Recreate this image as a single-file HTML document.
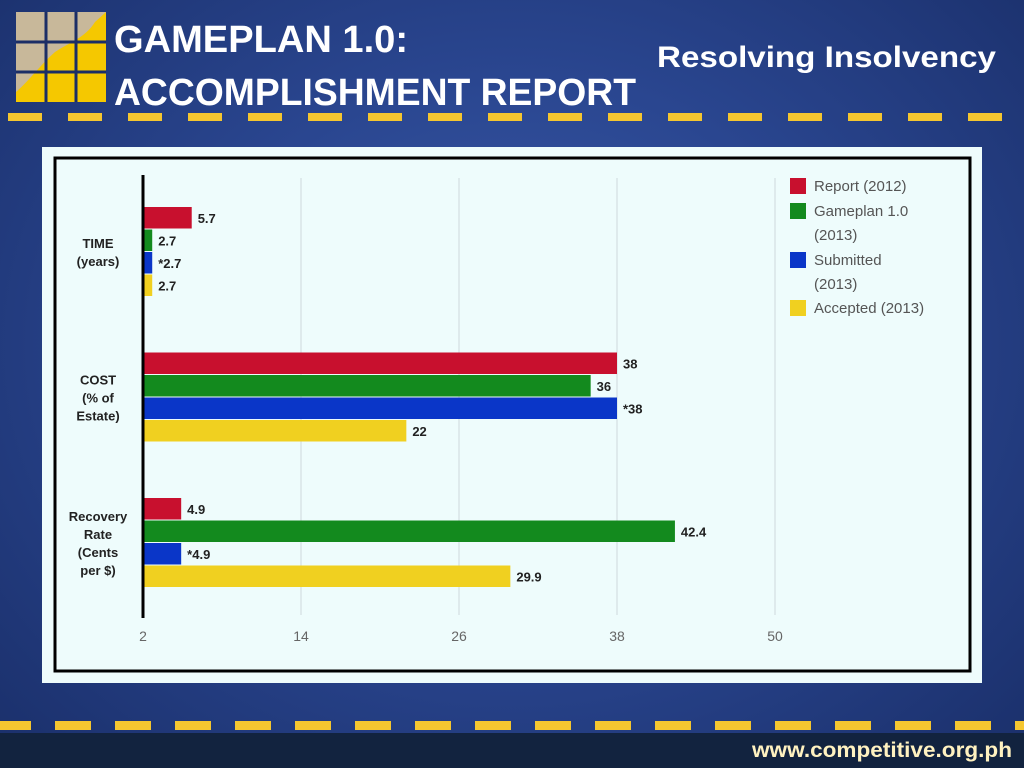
<!DOCTYPE html>
<html><head><meta charset="utf-8"><style>
body{margin:0;width:1024px;height:768px;overflow:hidden;font-family:"Liberation Sans",sans-serif;}
#bg{position:absolute;left:0;top:0;width:1024px;height:768px;background:radial-gradient(ellipse at 50% 45%,#3a5aa8 0%,#2a4690 45%,#1a2f6a 100%);}
</style></head><body>
<div id="bg"></div>
<svg width="1024" height="768" style="position:absolute;left:0;top:0">
<g>
<rect x="16" y="12" width="90" height="90" fill="#c8b89a"/>
<path d="M16,102 L16,92 C30,80 40,65 55,52 C70,42 85,38 95,22 L106,12 L106,102 Z" fill="#f5c800"/>
<g stroke="#1c2e66" stroke-width="3"><line x1="46" y1="12" x2="46" y2="102"/><line x1="76" y1="12" x2="76" y2="102"/><line x1="16" y1="42" x2="106" y2="42"/><line x1="16" y1="72" x2="106" y2="72"/></g>
</g>
<text x="114" y="52" fill="#fff" font-size="38" font-weight="bold" textLength="294" lengthAdjust="spacingAndGlyphs">GAMEPLAN 1.0:</text>
<text x="114" y="105" fill="#fff" font-size="38" font-weight="bold" textLength="522" lengthAdjust="spacingAndGlyphs">ACCOMPLISHMENT REPORT</text>
<text x="657" y="67" fill="#fff" font-size="30" font-weight="bold" textLength="339" lengthAdjust="spacingAndGlyphs">Resolving Insolvency</text>
<g id="dash1"></g>
<rect x="0" y="733" width="1024" height="35" fill="#12233f"/>
<g id="dash2"></g>
<text x="752" y="757" fill="#fff2c0" font-size="21" font-weight="bold" textLength="260" lengthAdjust="spacingAndGlyphs">www.competitive.org.ph</text>
<rect x="42" y="147" width="940" height="536" fill="#eefcfc"/>
<rect x="55" y="158" width="915" height="513" fill="none" stroke="#000" stroke-width="3"/>
<g id="chart"></g>
</svg>
<script>
const categories=["TIME|(years)","COST|(% of|Estate)","Recovery|Rate|(Cents|per $)"];
const seriesNames=["Report (2012)","Gameplan 1.0|(2013)","Submitted|(2013)","Accepted (2013)"];
const seriesColors=["#c8102e","#138a1e","#0a36c8","#f0d020"];
const report=[5.7,38,4.9];
const gameplan=[2.7,36,42.4];
const submitted=[2.7,38,4.9];
const accepted=[2.7,22,29.9];
const labels=[["5.7","2.7","*2.7","2.7"],["38","36","*38","22"],["4.9","42.4","*4.9","29.9"]];
const ticks=[2,14,26,38,50];
const NS="http://www.w3.org/2000/svg";
function mk(t,a,p){const e=document.createElementNS(NS,t);for(const k in a)e.setAttribute(k,a[k]);p.appendChild(e);return e;}
function x(v){return 143+(v-2)*(632/48);}
function gy(i){return 207+i*145.5;}
const d1=document.getElementById('dash1'),d2=document.getElementById('dash2');
for(let i=0;i<18;i++){mk('rect',{x:8+i*60,y:113,width:34,height:8,fill:'#f5c630'},d1);mk('rect',{x:-5+i*60,y:721,width:36,height:9,fill:'#f5c630'},d2);}
const c=document.getElementById('chart');
ticks.forEach(t=>{
 if(t!==2){const l=mk('line',{x1:x(t),x2:x(t),y1:178,y2:615,stroke:'#cfd8dc','stroke-width':1},c);
 
 }
 const tx=mk('text',{x:x(t),y:641,'text-anchor':'middle','font-size':14,fill:'#666'},c);tx.textContent=t;
 
 
});
const series=[report,gameplan,submitted,accepted];
categories.forEach((cat,i)=>{
 const lines=cat.split('|');const cy=gy(i)+45;
 const tx=mk('text',{x:98,y:cy-(lines.length-1)*9+5,'text-anchor':'middle','font-size':13,'font-weight':'bold',fill:'#222'},c);
 
 
 lines.forEach((l,j)=>{const s=mk('tspan',{x:98,dy:j?18:0},tx);s.textContent=l;});
 series.forEach((s,k)=>{
  const y=gy(i)+k*22.5;
  const r=mk('rect',{x:x(2),y:y,width:x(s[i])-x(2),height:21.5,fill:seriesColors[k]},c);
  
  
  const t=mk('text',{x:x(s[i])+6,y:y+16,'font-size':13,'font-weight':'bold',fill:'#222'},c);t.textContent=labels[i][k];
  
  
 });
});
const ax=mk('line',{x1:143,x2:143,y1:175,y2:618,stroke:'#000','stroke-width':3},c);


const ly=[178,203,252,300];
seriesNames.forEach((n,k)=>{
 const g=mk('g',{},c);
 
 
 mk('rect',{x:790,y:ly[k],width:16,height:16,fill:seriesColors[k]},g);
 const t=mk('text',{x:814,y:ly[k]+13,'font-size':15,fill:'#555'},g);
 n.split('|').forEach((l,j)=>{const s=mk('tspan',{x:814,dy:j?24:0},t);s.textContent=l;});
});
</script>
</body></html>
